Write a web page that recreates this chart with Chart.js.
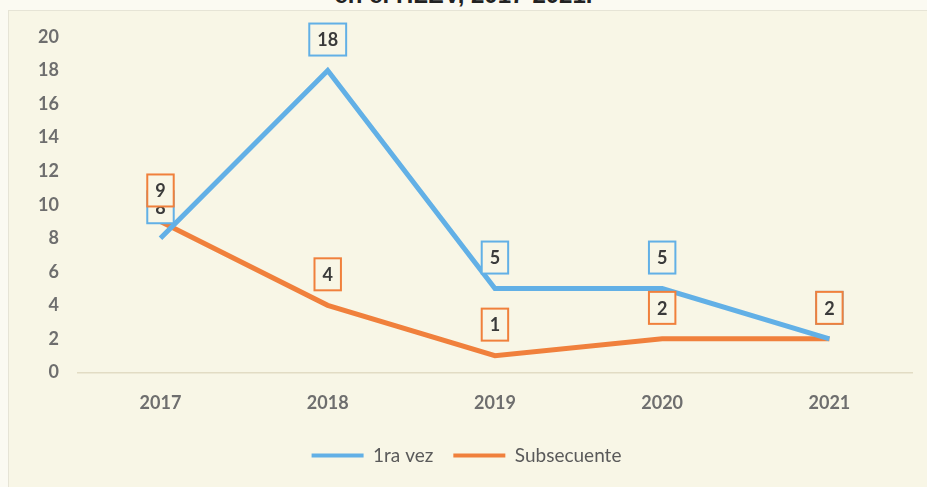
<!DOCTYPE html>
<html><head><meta charset="utf-8">
<script src="https://cdn.jsdelivr.net/npm/chart.js@4/dist/chart.umd.min.js"></script>
<style>
html,body{margin:0;padding:0;background:#fbfaf2;overflow:hidden}
#wrap{position:relative;width:927px;height:487px}
#title{position:absolute;left:0;width:927px;top:-19px;text-align:center;font:bold 24px "Liberation Sans",Arial,sans-serif;color:#222}
#frame{position:absolute;left:8px;top:10px;width:919px;height:477px;background:#f8f6e6;border-left:1px solid #e6e4d6;border-top:1px solid #e6e4d6}
canvas{position:absolute;left:0;top:0}
</style></head><body>
<div id="wrap">
<div id="frame"></div>
<div id="title">en el HLEV, 2017-2021.</div>
<canvas id="c" width="927" height="487"></canvas>
</div>
<script>
const years = ['2017','2018','2019','2020','2021'];
const primeraVez = [8, 18, 5, 5, 2];
const subsecuente = [9, 4, 1, 2, 2];
const yTicks = [0,2,4,6,8,10,12,14,16,18,20];

const labelBoxes = {
  id:'labelBoxes',
  afterDatasetsDraw(chart){
    const ctx = chart.ctx;
    chart.data.datasets.forEach((ds,i)=>{
      const meta = chart.getDatasetMeta(i);
      meta.data.forEach((pt,j)=>{
        const txt = String(ds.data[j]);
        ctx.save();
        ctx.font = 'bold 18px Lato, sans-serif';
        const w = Math.max(25, ctx.measureText(txt).width + 16);
        const h = 32;
        const cx = pt.x, cy = pt.y - 31;
        ctx.fillStyle = '#f8f6e6';
        ctx.fillRect(cx-w/2, cy-h/2, w, h);
        ctx.strokeStyle = ds.borderColor;
        ctx.lineWidth = 2;
        ctx.strokeRect(cx-w/2, cy-h/2, w, h);
        ctx.fillStyle = '#3a3a3a';
        ctx.textAlign='center'; ctx.textBaseline='middle';
        ctx.fillText(txt, cx, cy+1);
        ctx.restore();
      });
    });
  }
};

new Chart(document.getElementById('c'), {
  type:'line',
  data:{labels:years, datasets:[
    {label:'1ra vez', data:primeraVez, borderColor:'#62b0e6', backgroundColor:'#62b0e6', borderWidth:5, pointRadius:0, tension:0},
    {label:'Subsecuente', data:subsecuente, borderColor:'#f0803c', backgroundColor:'#f0803c', borderWidth:5, pointRadius:0, tension:0}
  ]},
  options:{
    responsive:false, animation:false,
    layout:{padding:{left:20,right:14,top:37,bottom:12}},
    plugins:{
      legend:{position:'bottom', labels:{
        generateLabels(chart){
          return chart.data.datasets.map((ds,i)=>({text:ds.label, fillStyle:ds.borderColor, strokeStyle:ds.borderColor, lineWidth:0, hidden:false, datasetIndex:i, fontColor:'#5a5a5a'}));
        },
        boxWidth:52, boxHeight:4, padding:20, color:'#5a5a5a', font:{family:'Lato', size:19}}},
      title:{display:false}, tooltip:{enabled:false}
    },
    scales:{
      x:{offset:true, grid:{display:false}, border:{display:false},
         ticks:{color:'#6e6e6e', font:{family:'Lato', size:18, weight:'bold'}, padding:12}},
      y:{min:0, max:20, afterBuildTicks(ax){ax.ticks = yTicks.map(v=>({value:v}));},
         grid:{display:true, drawTicks:false, color:(c)=>c.tick.value===0?'#e2dcc4':'rgba(0,0,0,0)', lineWidth:1.5},
         border:{display:false},
         ticks:{color:'#6e6e6e', font:{family:'Lato', size:18, weight:'bold'}, padding:18}}
    }
  },
  plugins:[labelBoxes]
});
</script>
</body></html>
